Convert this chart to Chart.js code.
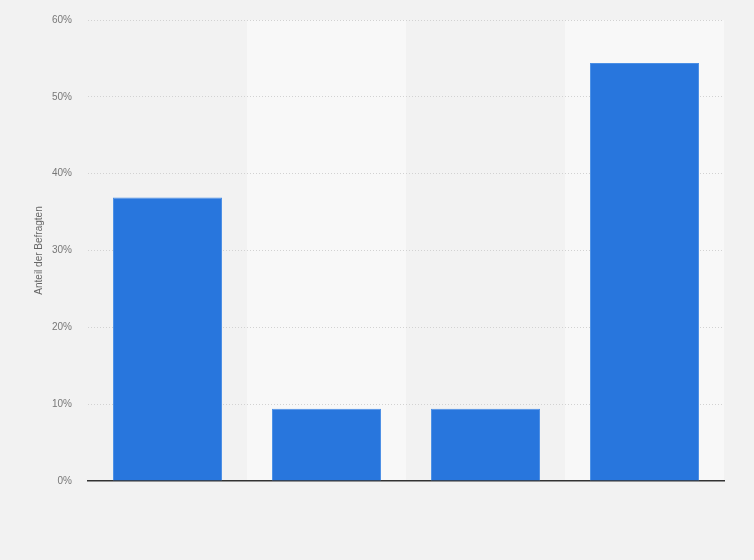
<!DOCTYPE html>
<html>
<head>
<meta charset="utf-8">
<script src="https://cdn.jsdelivr.net/npm/chart.js@4/dist/chart.umd.min.js"></script>
<style>
html,body{margin:0;padding:0;background:#f2f2f2;}
#wrap{width:754px;height:560px;}
</style>
</head>
<body>
<div id="wrap"><canvas id="c" width="754" height="560"></canvas></div>
<script>
const categories = ['Kategorie 1', 'Kategorie 2', 'Kategorie 3', 'Kategorie 4'];
const values = [36.9, 9.4, 9.4, 54.4];
const yTicks = [0, 10, 20, 30, 40, 50, 60];
const yTitle = 'Anteil der Befragten';

const bandPlugin = {
  id: 'bands',
  beforeDraw(chart) {
    const {ctx, chartArea, scales} = chart;
    ctx.save();
    ctx.fillStyle = '#f2f2f2';
    ctx.fillRect(0, 0, chart.width, chart.height);
    const x = scales.x;
    const half = (x.getPixelForValue(1) - x.getPixelForValue(0)) / 2;
    ctx.fillStyle = '#f8f8f8';
    categories.forEach((c, i) => {
      if (i % 2 === 1) {
        const cx = x.getPixelForValue(i);
        ctx.fillRect(cx - half, chartArea.top, half * 2, chartArea.bottom - chartArea.top);
      }
    });
    ctx.restore();
  }
};

new Chart(document.getElementById('c'), {
  type: 'bar',
  data: {
    labels: categories,
    datasets: [{
      data: values,
      backgroundColor: '#2876dd',
      borderColor: '#4a8fe6',
      borderWidth: {left: 1, right: 1, top: 1, bottom: 0},
      categoryPercentage: 1,
      barPercentage: 0.686
    }]
  },
  options: {
    responsive: false,
    animation: false,
    devicePixelRatio: 1,
    layout: {padding: {top: 20, right: 30, bottom: 79, left: 0}},
    plugins: {legend: {display: false}, tooltip: {enabled: false}},
    scales: {
      x: {
        grid: {display: false, drawTicks: false},
        border: {display: true, color: '#333333', width: 1.5},
        ticks: {display: false}
      },
      y: {
        min: 0,
        max: 60,
        afterBuildTicks(scale) { scale.ticks = yTicks.map(v => ({value: v})); },
        afterFit(scale) { scale.width = 88; scale.paddingTop = 0; scale.paddingBottom = 0; },
        grid: {
          drawTicks: false,
          color: (ctx) => ctx.tick && ctx.tick.value === 0 ? 'rgba(0,0,0,0)' : '#d2d2d2',
          lineWidth: 1
        },
        border: {display: false, dash: [1, 2]},
        ticks: {
          padding: 16,
          color: '#777777',
          font: {family: '"Liberation Sans", Arial, sans-serif', size: 10},
          callback: (v) => v + '%'
        },
        title: {
          display: true,
          text: yTitle,
          color: '#666666',
          font: {family: '"Liberation Sans", Arial, sans-serif', size: 10},
          padding: {top: 33, bottom: 0}
        }
      }
    }
  },
  plugins: [bandPlugin]
});
</script>
</body>
</html>
